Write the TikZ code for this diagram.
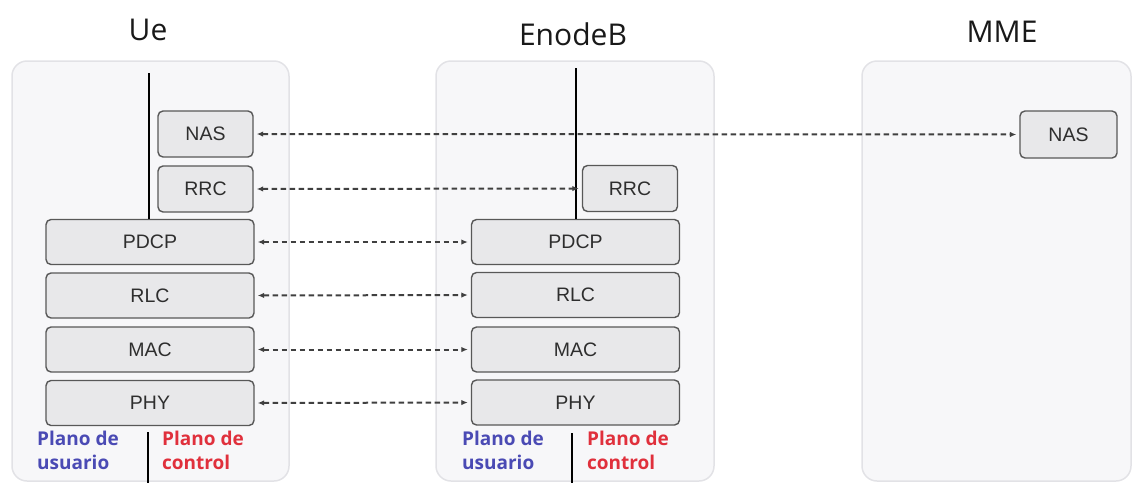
\documentclass[tikz,border=0pt]{standalone}
\usepackage{fontspec}
\setmainfont{Liberation Sans}
\newfontfamily\headfont{Open Sans}
\usetikzlibrary{arrows.meta}

\definecolor{panelfill}{HTML}{F7F7F9}
\definecolor{paneledge}{HTML}{E2E2E6}
\definecolor{layerfill}{HTML}{E8E8EA}
\definecolor{layeredge}{HTML}{585858}
\definecolor{layertext}{HTML}{2E2E2E}
\definecolor{linkgray}{HTML}{404040}
\definecolor{userblue}{HTML}{4A4AB4}
\definecolor{ctrlred}{HTML}{E0303C}

\tikzset{
  panel/.style={draw=paneledge, fill=panelfill, line width=1.5pt, rounded corners=15pt},
  layer/.style={draw=layeredge, fill=layerfill, line width=1.4pt, rounded corners=5pt,
                text=layertext, font=\fontsize{19.5}{21}\selectfont, inner sep=0pt},
  wide/.style={layer, minimum width=208pt, minimum height=45pt},
  small/.style={layer, minimum width=95pt, minimum height=46pt},
  title/.style={font=\headfont\fontsize{30}{34}\selectfont, text=black!90, anchor=base, inner sep=0pt},
  divider/.style={draw=black, line width=1.8pt},
  link/.style={draw=linkgray, line width=2pt, dash pattern=on 5.5pt off 3.5pt,
               {Latex[length=6.5pt,width=5.5pt]}-{Latex[length=6.5pt,width=5.5pt]},
               shorten <=3pt, shorten >=3pt},
  planelabel/.style={anchor=north west, inner sep=0pt, align=left,
                     font=\headfont\bfseries\fontsize{19}{24}\selectfont}
}

\begin{document}
\begin{tikzpicture}[x=1pt, y=-1pt]
\useasboundingbox (0,0) rectangle (1133,483);

% equipment panels
\draw[panel] (12,61) rectangle (289,481);
\draw[panel] (436,61) rectangle (714,481);
\draw[panel] (862,61) rectangle (1131,481);

% titles
\node[title] (tUe)  at (148,40)  {Ue};
\node[title] (tEnb) at (573,45)  {EnodeB};
\node[title] (tMme) at (1002,42) {MME};

% UE protocol stack
\node[small] (ueNAS)  at (205.5,134)   {NAS};
\node[small] (ueRRC)  at (205.5,189)   {RRC};
\node[wide]  (uePDCP) at (150,242)     {PDCP};
\node[wide]  (ueRLC)  at (150,295.5)   {RLC};
\node[wide]  (ueMAC)  at (150,349.5)   {MAC};
\node[wide]  (uePHY)  at (150,403)     {PHY};

% eNodeB protocol stack
\node[small] (enRRC)  at (630,188.5)   {RRC};
\node[wide]  (enPDCP) at (575.5,242)   {PDCP};
\node[wide]  (enRLC)  at (575.5,295)   {RLC};
\node[wide]  (enMAC)  at (575.5,349.5) {MAC};
\node[wide]  (enPHY)  at (575.5,402.5) {PHY};

% MME stack
\node[layer, minimum width=97pt, minimum height=47pt] (mmNAS) at (1068.5,134.5) {NAS};

% user / control plane separators
\draw[divider] (149,73) -- (149,0 |- uePDCP.north);
\draw[divider] (148,432) -- (148,483);
\draw[divider] (576,68) -- (576,0 |- enPDCP.north);
\draw[divider] (572,433) -- (572,483);

% plane captions
\node[planelabel, text=userblue] (ueUser) at (37,431)  {Plano de\\usuario};
\node[planelabel, text=ctrlred]  (ueCtrl) at (162,431) {Plano de\\control};
\node[planelabel, text=userblue] (enUser) at (462,431) {Plano de\\usuario};
\node[planelabel, text=ctrlred]  (enCtrl) at (587,431) {Plano de\\control};

% peer-to-peer protocol links
\draw[link] (ueNAS.east)  -- (mmNAS.west);
\draw[link] (ueRRC.east)  -- (enRRC.west);
\draw[link] (uePDCP.east) -- (enPDCP.west);
\draw[link] (ueRLC.east)  -- (enRLC.west);
\draw[link] (ueMAC.east)  -- (enMAC.west);
\draw[link] (uePHY.east)  -- (enPHY.west);
\end{tikzpicture}
\end{document}
